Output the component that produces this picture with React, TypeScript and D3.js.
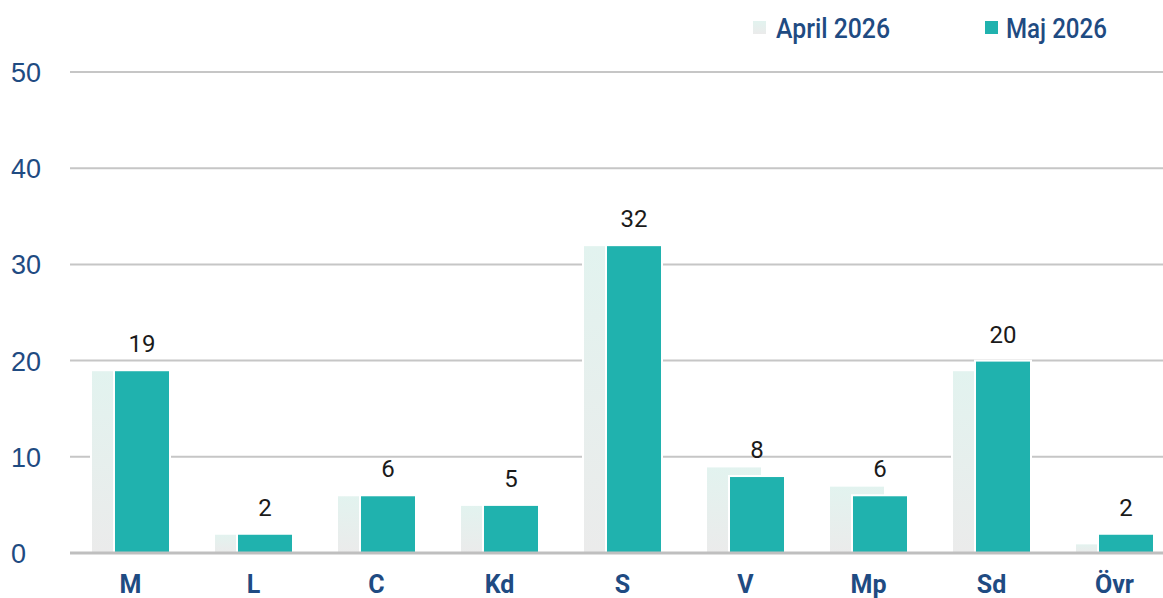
import * as d3 from "d3";

const categories = ["M", "L", "C", "Kd", "S", "V", "Mp", "Sd", "Övr"];
const april = [19, 2, 6, 5, 32, 9, 7, 19, 1];
const maj = [19, 2, 6, 5, 32, 8, 6, 20, 2];
const yTicks = [0, 10, 20, 30, 40, 50];
const seriesNames = ["April 2026", "Maj 2026"];

const W = 1163;
const H = 598;

export default function App() {
  const x = d3.scaleBand<string>().domain(categories).range([69, 1176]);
  const y = d3.scaleLinear().domain([0, 50]).range([553, 72]);
  const barW = 56;
  const offset = 23;
  const teal = "#20b2ae";
  const blue = "#1f4b82";

  return (
    <svg
      width={W}
      height={H}
      style={{ position: "absolute", left: 0, top: 0, background: "#fff" }}
    >
      <defs>
        <linearGradient id="aprGrad" x1="0" y1="0" x2="0" y2="1">
          <stop offset="0" stopColor="#e2f3ef" />
          <stop offset="1" stopColor="#ebebeb" />
        </linearGradient>
      </defs>

      {/* gridlines */}
      {yTicks.filter((t) => t > 0).map((t) => (
        <line key={t} x1={70} x2={W} y1={y(t)} y2={y(t)} stroke="#c6c6c6" strokeWidth={2} />
      ))}

      {/* y labels */}
      {yTicks.map((t) => (
        <text
          key={t}
          x={11}
          y={y(t) + 10}
          fontFamily="Liberation Sans, Arial, sans-serif"
          fontSize={27}
          fill={blue}
        >
          {t}
        </text>
      ))}

      {/* bars */}
      {categories.map((c, i) => {
        const cx = (x(c) as number) + x.bandwidth() / 2;
        const ax = cx - (barW + offset) / 2;
        const mx = ax + offset;
        return (
          <g key={c}>
            <rect
              x={ax}
              y={y(april[i])}
              width={barW}
              height={y(0) - y(april[i])}
              fill="url(#aprGrad)"
              stroke="#fff"
              strokeWidth={2}
            />
            <rect
              x={mx}
              y={y(maj[i])}
              width={barW}
              height={y(0) - y(maj[i])}
              fill={teal}
              stroke="#fff"
              strokeWidth={2}
            />
            <text
              x={mx + barW / 2}
              y={y(maj[i]) - 18}
              textAnchor="middle"
              fontFamily="Roboto, sans-serif"
              fontSize={24}
              fill="#1a1a1a"
            >
              {maj[i]}
            </text>
            <text
              x={cx}
              y={593}
              textAnchor="middle"
              fontFamily="Roboto, sans-serif"
              fontWeight={700}
              fontSize={25}
              fill={blue}
            >
              {c}
            </text>
          </g>
        );
      })}

      {/* zero axis */}
      <line x1={70} x2={W} y1={y(0)} y2={y(0)} stroke="#bfbfbf" strokeWidth={3} />

      {/* legend */}
      <rect x={753} y={21} width={13} height={13} fill="url(#aprGrad)" />
      <text
        x={776}
        y={38}
        fontFamily="Roboto, sans-serif"
        fontWeight={500}
        fontSize={27}
        fill={blue}
        textLength={114}
        lengthAdjust="spacingAndGlyphs"
      >
        {seriesNames[0]}
      </text>
      <rect x={985} y={21} width={13} height={13} fill={teal} />
      <text
        x={1006}
        y={38}
        fontFamily="Roboto, sans-serif"
        fontWeight={500}
        fontSize={27}
        fill={blue}
        textLength={101}
        lengthAdjust="spacingAndGlyphs"
      >
        {seriesNames[1]}
      </text>
    </svg>
  );
}
